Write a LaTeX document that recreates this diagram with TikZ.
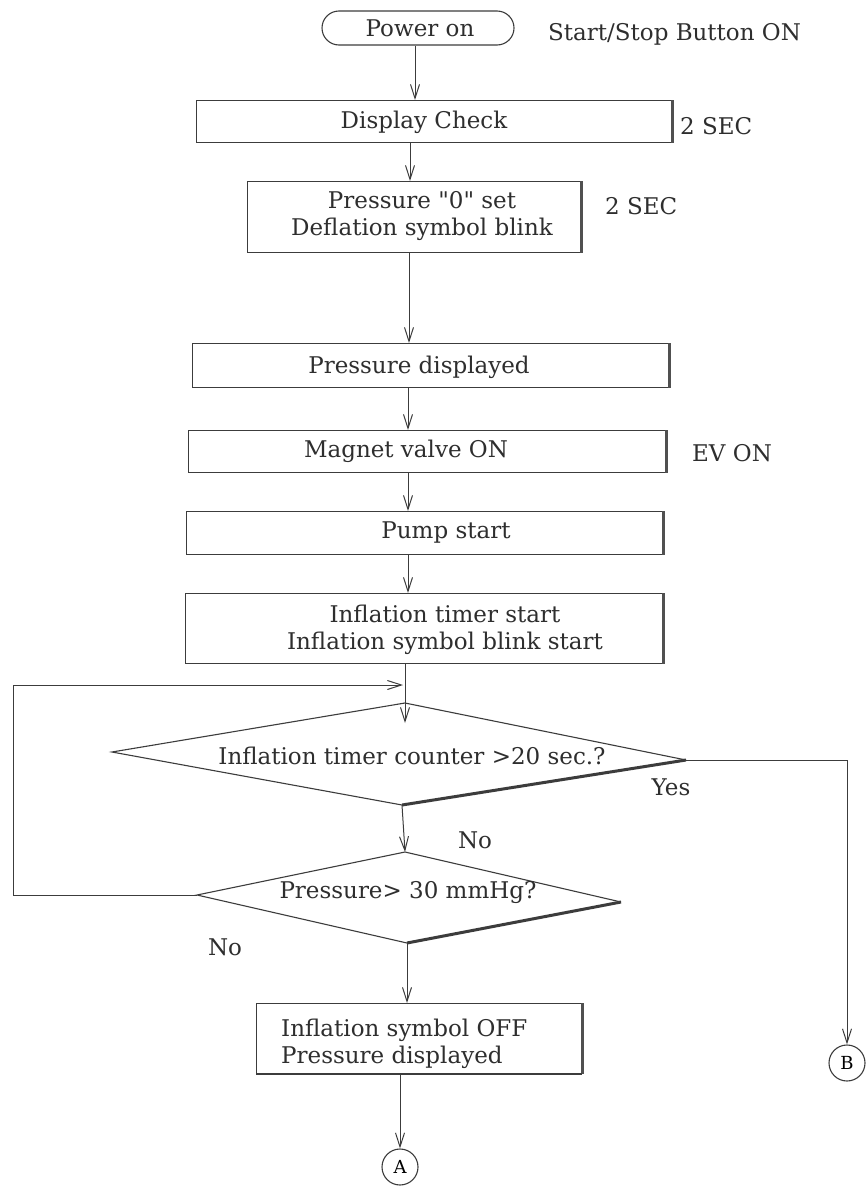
\documentclass[tikz,border=0pt]{standalone}
\usepackage{fontspec}
\setmainfont[Ligatures=TeXOff]{DejaVu Serif}
\usetikzlibrary{arrows.meta}
\definecolor{inkc}{HTML}{3C3C3C}
\definecolor{txtc}{HTML}{2E2E2E}
\begin{document}
\begin{tikzpicture}[x=1pt,y=-1pt,
  ink/.style={draw=inkc, line width=1.1pt},
  shade edge/.style={draw=inkc!90, line width=3pt},
  procbox/.style={ink, rectangle, inner sep=0pt, anchor=north west},
  terminal/.style={ink, rectangle, rounded corners=17pt, inner sep=0pt},
  connector/.style={ink, circle, inner sep=0pt, minimum size=36pt, font=\fontsize{18}{20}\selectfont},
  lbl/.style={text=txtc, inner sep=0pt, font=\fontsize{23}{27}\selectfont},
  flow/.style={draw=inkc, line width=1pt, -{Straight Barb[length=14pt,width=9pt,line width=1pt]}},
  wire/.style={draw=inkc, line width=1pt}]

\useasboundingbox (0,0) rectangle (866,1186);
\fill[white] (0,0) rectangle (866,1186);

% start terminal
\node[terminal, minimum width=192pt, minimum height=34pt] (pwr) at (418,28) {};
\node[lbl] (pwrtxt) at (420,28) {Power on};
\node[lbl, anchor=west] (startlbl) at (548,34) {Start/Stop Button ON};

% process boxes (outline only, text placed separately)
\node[procbox, minimum width=475pt, minimum height=42pt] (dchk) at (196,100) {};
\node[lbl] (dchktxt) at (424,122) {Display Check};
\node[lbl, anchor=west] (sec1) at (680,126) {2 SEC};

\node[procbox, minimum width=333pt, minimum height=71pt] (pzero) at (247,181) {};
\node[lbl, align=center] (pzerotxt) at (422,216) {Pressure "0" set\\Deflation symbol blink};
\node[lbl, anchor=west] (sec2) at (605,206) {2 SEC};

\node[procbox, minimum width=476pt, minimum height=44pt] (pdisp) at (192,343) {};
\node[lbl] (pdisptxt) at (419,367) {Pressure displayed};

\node[procbox, minimum width=477pt, minimum height=42pt] (valve) at (188,430) {};
\node[lbl] (valvetxt) at (406,451) {Magnet valve ON};
\node[lbl, anchor=west] (evon) at (692,453) {EV ON};

\node[procbox, minimum width=476pt, minimum height=43pt] (pump) at (186,511) {};
\node[lbl] (pumptxt) at (446,533) {Pump start};

\node[procbox, minimum width=477pt, minimum height=70pt] (itimer) at (185,593) {};
\node[lbl, align=center] (itimertxt) at (445,630) {Inflation timer start\\Inflation symbol blink start};

\node[procbox, minimum width=325pt, minimum height=70pt] (ioff) at (256,1003) {};
\node[lbl, align=left, anchor=west] (iofftxt) at (281,1044) {Inflation symbol OFF\\Pressure displayed};

% shaded right edges of the boxes
\foreach \b in {dchk,pzero,pdisp,valve,pump,itimer,ioff}
  \draw[shade edge] (\b.north east) -- (\b.south east);
\draw[draw=inkc, line width=2pt] (ioff.south west) -- (ioff.south east);

% decision 1
\coordinate (d1l) at (112,752);
\coordinate (d1t) at (405,703);
\coordinate (d1r) at (686,760);
\coordinate (d1b) at (402,805);
\draw[ink] (d1b) -- (d1l) -- (d1t) -- (d1r);
\draw[draw=inkc, line width=3pt] (d1r) -- (d1b);
\node[lbl] (d1txt) at (412,756) {Inflation timer counter >20 sec.?};

% decision 2
\coordinate (d2l) at (197,895);
\coordinate (d2t) at (405,852);
\coordinate (d2r) at (621,902);
\coordinate (d2b) at (407,943);
\draw[ink] (d2b) -- (d2l) -- (d2t) -- (d2r);
\draw[draw=inkc, line width=3pt] (d2r) -- (d2b);
\node[lbl] (d2txt) at (408,893) {Pressure> 30 mmHg?};

% off-page connectors
\node[connector] (conA) at (400,1167) {A};
\node[connector] (conB) at (847,1063) {B};

% spine x positions
\coordinate (xa) at (415,0);
\coordinate (xb) at (410,0);
\coordinate (xc) at (409,0);
\coordinate (xd) at (408,0);
\coordinate (xe) at (405,0);
\coordinate (loopx) at (13,0);
\coordinate (loopin) at (403,685);
\coordinate (d1in) at (405,723);

% main flow
\draw[flow] (pwr.south -| xa) -- (dchk.north -| xa);
\draw[flow] (dchk.south -| xb) -- (pzero.north -| xb);
\draw[flow] (pzero.south -| xc) -- (pdisp.north -| xc);
\draw[flow] (pdisp.south -| xd) -- (valve.north -| xd);
\draw[flow] (valve.south -| xd) -- (pump.north -| xd);
\draw[flow] (pump.south -| xd) -- (itimer.north -| xd);
\draw[flow] (itimer.south -| xe) -- (d1in);
\draw[flow] (d1b) -- (d2t);
\draw[flow] (d2b) -- (ioff.north -| d2b);
\draw[flow] (ioff.south -| conA) -- (conA.north);

% loop back and yes branch
\draw[flow] (d2l) -- (d2l -| loopx) |- (loopin);
\draw[flow] (d1r) -| (conB.north);

% branch labels
\node[lbl] (yes) at (671,787) {Yes};
\node[lbl] (no1) at (475,840) {No};
\node[lbl] (no2) at (225,947) {No};
\end{tikzpicture}
\end{document}
